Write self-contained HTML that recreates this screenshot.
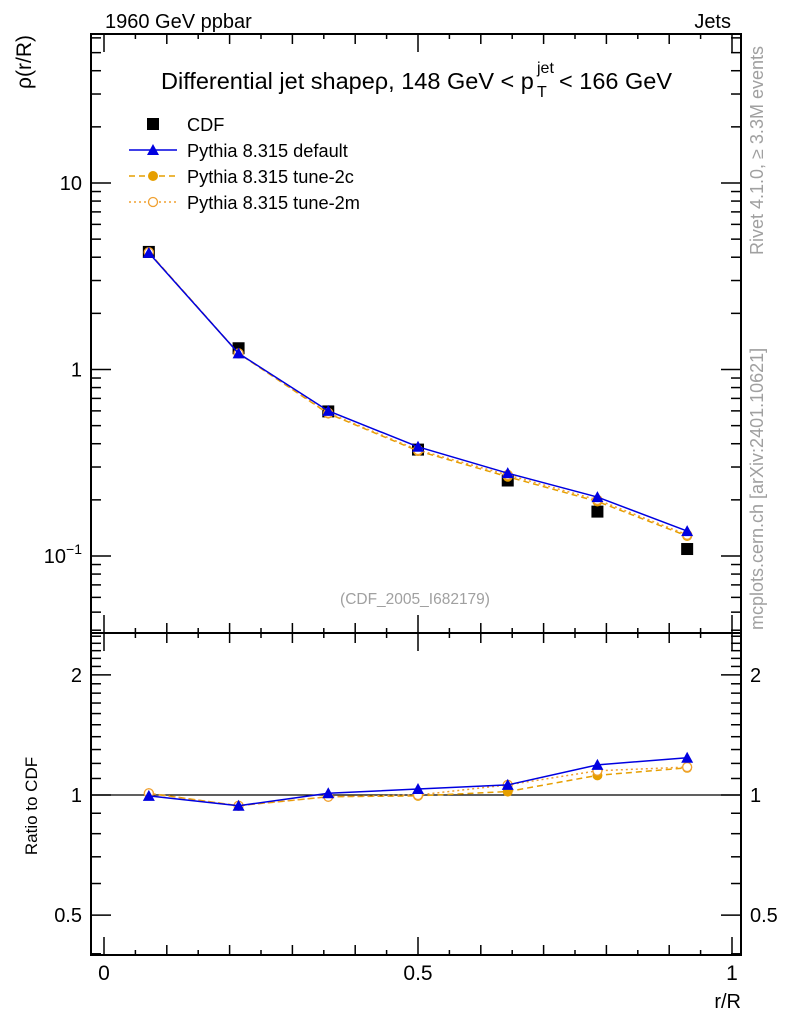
<!DOCTYPE html>
<html><head><meta charset="utf-8"><style>
body{margin:0;background:#fff;}
svg{display:block;font-family:"Liberation Sans",sans-serif;}
</style></head><body>
<svg id="c" width="786" height="1024" viewBox="0 0 786 1024"></svg>
<script>
const xCenters=[0.0714,0.2143,0.3571,0.5,0.6429,0.7857,0.9286];
const cdfVals=[4.27,1.30,0.596,0.372,0.254,0.173,0.109];
const defVals=[4.22,1.22,0.60,0.385,0.278,0.207,0.136];
const c2Vals=[4.25,1.22,0.58,0.366,0.266,0.196,0.128];
const m2Vals=[4.25,1.22,0.585,0.37,0.272,0.200,0.130];
const defRatio=[0.995,0.94,1.01,1.035,1.06,1.19,1.24];
const c2Ratio=[1.01,0.94,0.99,0.995,1.02,1.12,1.17];
const m2Ratio=[1.01,0.94,0.99,1.0,1.06,1.15,1.175];
const xTickLabels=["0","0.5","1"];

const NS="http://www.w3.org/2000/svg";
const svg=document.getElementById('c');
function el(t,a,p){const e=document.createElementNS(NS,t);for(const k in a)e.setAttribute(k,a[k]);(p||svg).appendChild(e);return e;}
const L=91,R=741,T=34,M=633,B=955;
const X=v=>104+v*628;
const Y=v=>183-(Math.log10(v)-1)*186.5;
const YR=v=>795-Math.log10(v)*399;

let f=el('rect',{x:L,y:T,width:R-L,height:M-T,fill:'none',stroke:'#000','stroke-width':2});

f=el('rect',{x:L,y:M,width:R-L,height:B-M,fill:'none',stroke:'#000','stroke-width':2});


for(let i=0;i<=20;i++){const v=i*0.05,x=X(v);const len=i%10==0?18:(i%2==0?10:5);
 for(const [yb,yt] of [[M,T],[B,M]]){
  el('line',{x1:x,x2:x,y1:yb,y2:yb-len,stroke:'#000','stroke-width':1.5});
  el('line',{x1:x,x2:x,y1:yt,y2:yt+len,stroke:'#000','stroke-width':1.5});
 }}
xTickLabels.forEach((t,i)=>{const e=el('text',{x:X(i*0.5),y:980,'font-size':21,'text-anchor':'middle'});e.textContent=t;
 });

for(let d=-2;d<=1;d++){for(let m=1;m<=9;m++){const v=m*Math.pow(10,d);const y=Y(v);if(y<T||y>M)continue;
 const len=m==1?20:10;
 el('line',{x1:L,x2:L+len,y1:y,y2:y,stroke:'#000','stroke-width':1.5});
 el('line',{x1:R,x2:R-len,y1:y,y2:y,stroke:'#000','stroke-width':1.5});}}
[[10,"10"],[1,"1"]].forEach(([v,t])=>{const e=el('text',{x:82,y:Y(v)+7,'font-size':20,'text-anchor':'end'});e.textContent=t;
 });
let e=el('text',{x:82,y:Y(0.1)+7,'font-size':20,'text-anchor':'end'});e.innerHTML='10<tspan dy="-9" font-size="14">−1</tspan>';


for(let i=4;i<=25;i++){const v=i/10;const y=YR(v);if(y<M||y>B)continue;const big=(v==0.5||v==1||v==2);const len=big?20:10;
 el('line',{x1:L,x2:L+len,y1:y,y2:y,stroke:'#000','stroke-width':1.5});
 el('line',{x1:R,x2:R-len,y1:y,y2:y,stroke:'#000','stroke-width':1.5});}
[[2,"2"],[1,"1"],[0.5,"0.5"]].forEach(([v,t])=>{
 let a=el('text',{x:82,y:YR(v)+7,'font-size':20,'text-anchor':'end'});a.textContent=t;
 
 a=el('text',{x:750,y:YR(v)+7,'font-size':20});a.textContent=t;
 });
el('line',{x1:L,x2:R,y1:YR(1),y2:YR(1),stroke:'#000','stroke-width':1.2});

function series(vals,yf,color,dash,marker,name){
 const g=el('g',{});
 const pts=vals.map((v,i)=>X(xCenters[i])+','+yf(v)).join(' ');
 const pl=el('polyline',{points:pts,fill:'none',stroke:color,'stroke-width':1.5,'stroke-dasharray':dash},g);
 vals.forEach((v,i)=>{const x=X(xCenters[i]),y=yf(v);let m;
  if(marker=='tri')m=el('polygon',{points:`${x},${y-6} ${x-6},${y+5} ${x+6},${y+5}`,fill:color},g);
  else if(marker=='dot')m=el('circle',{cx:x,cy:y,r:5,fill:color},g);
  else if(marker=='open')m=el('circle',{cx:x,cy:y,r:4.5,fill:'#fff',stroke:color,'stroke-width':1.3},g);
  else m=el('rect',{x:x-6,y:y-6,width:12,height:12,fill:'#000'},g);
  });
 if(!marker||marker=='sq')pl.remove();
}
series(cdfVals,Y,'#000','','sq','cdf-data');
series(c2Vals,Y,'#e69f00','6,4','dot','tune-2c-line');
series(m2Vals,Y,'#f0a030','2,3','open','tune-2m-line');
series(defVals,Y,'#0000e0','','tri','default-line');
series(c2Ratio,YR,'#e69f00','6,4','dot','tune-2c-ratio');
series(m2Ratio,YR,'#f0a030','2,3','open','tune-2m-ratio');
series(defRatio,YR,'#0000e0','','tri','default-ratio');

const lg=el('g',{});
const legItems=[["CDF",'#000','','sq'],["Pythia 8.315 default",'#0000e0','','tri'],["Pythia 8.315 tune-2c",'#e69f00','6,4','dot'],["Pythia 8.315 tune-2m",'#f0a030','2,3','open']];
legItems.forEach((it,i)=>{const y=124+i*26;const g=el('g',{},lg);
 
 if(it[3]!='sq')el('line',{x1:129,x2:177,y1:y,y2:y,stroke:it[1],'stroke-width':1.5,'stroke-dasharray':it[2]},g);
 const x=153;
 if(it[3]=='sq')el('rect',{x:x-6,y:y-6,width:12,height:12,fill:'#000'},g);
 if(it[3]=='tri')el('polygon',{points:`${x},${y-6} ${x-6},${y+5} ${x+6},${y+5}`,fill:it[1]},g);
 if(it[3]=='dot')el('circle',{cx:x,cy:y,r:5,fill:it[1]},g);
 if(it[3]=='open')el('circle',{cx:x,cy:y,r:4.5,fill:'#fff',stroke:it[1],'stroke-width':1.3},g);
 const t=el('text',{x:187,y:y+7,'font-size':18.2},g);t.textContent=it[0];});

function txt(x,y,s,t,name,extra){const a=el('text',Object.assign({x:x,y:y,'font-size':s},extra||{}));a.innerHTML=t;return a;}
txt(105,28,20,'1960 GeV ppbar','header-left');
txt(731,28,20,'Jets','header-right',{'text-anchor':'end'});
txt(161,89,23.5,'Differential jet shapeρ, 148 GeV &lt; p<tspan x="537" dy="8" font-size="16">T</tspan><tspan x="537" dy="-24" font-size="16">jet</tspan><tspan x="559" dy="16">&lt; 166 GeV</tspan>','plot-title');
txt(415,604,15.5,'(CDF_2005_I682179)','analysis-id',{'text-anchor':'middle',fill:'#a0a0a0'});
txt(741,1008,20,'r/R','x-axis-title',{'text-anchor':'end'});
txt(0,0,21,'ρ(r/R)','y-axis-title',{transform:'translate(31,35) rotate(-90)','text-anchor':'end'});
txt(0,0,17,'Ratio to CDF','ratio-axis-title',{transform:'translate(37,806) rotate(-90)','text-anchor':'middle'});
txt(0,0,18,'Rivet 4.1.0, ≥ 3.3M events','rivet-label',{transform:'translate(763,255) rotate(-90)',fill:'#a0a0a0'});
txt(0,0,18,'mcplots.cern.ch [arXiv:2401.10621]','mcplots-label',{transform:'translate(763,630) rotate(-90)',fill:'#a0a0a0'});
</script>
</body></html>
